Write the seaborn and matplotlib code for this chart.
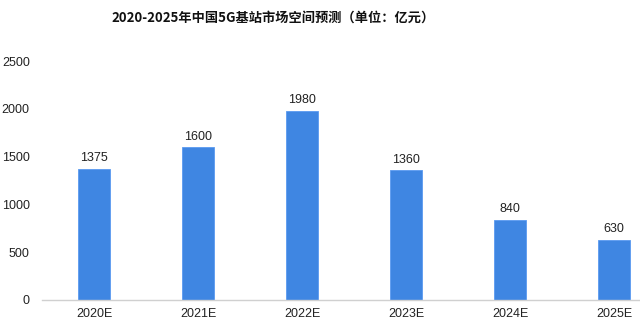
import matplotlib
matplotlib.use("Agg")
import matplotlib.pyplot as plt
import seaborn as sns
import pandas as pd

categories = ["2020E", "2021E", "2022E", "2023E", "2024E", "2025E"]
values = [1375, 1600, 1980, 1360, 840, 630]
yticks = [0, 500, 1000, 1500, 2000, 2500]
title = "2020-2025年中国5G基站市场空间预测（单位：亿元）"

sns.set_theme(style="white")
plt.rcParams['font.family'] = ['Noto Sans CJK SC', 'DejaVu Sans']

df = pd.DataFrame({"cat": categories, "val": values})
fig = plt.figure(figsize=(6.4, 3.25), dpi=100)
ax = fig.add_axes([0.066, 0.077, 0.934, 0.735])
sns.barplot(data=df, x="cat", y="val", color="#3f86e2", saturation=1, width=0.31, ax=ax,
            edgecolor="#5a9af0", linewidth=0.6)
for i, v in enumerate(values):
    ax.text(i, v + 45, str(v), ha="center", va="bottom", fontsize=9, color="#222222",
            family=['Liberation Sans', 'DejaVu Sans'])
ax.set_ylim(0, 2500)
ax.set_xlim(-0.5, 5.25)
ax.set_yticks(yticks)
ax.set_yticklabels([str(t) for t in yticks], family=['Liberation Sans', 'DejaVu Sans'], fontsize=9, color="#222222")
ax.set_xticklabels(categories, family=['Liberation Sans', 'DejaVu Sans'], fontsize=9, color="#222222")
ax.set_xlabel("")
ax.set_ylabel("")
for s in ["top", "right", "left"]:
    ax.spines[s].set_visible(False)
ax.spines["bottom"].set_color("#d0d0d0")
ax.spines["bottom"].set_linewidth(1)
ax.tick_params(axis="both", length=0, pad=6)
ax.tick_params(axis="y", pad=9)
fig.text(0.427, 0.945, title, ha="center", va="center", fontsize=9.5, fontweight="bold", color="#111111")
fig.savefig("out.png", dpi=100)
